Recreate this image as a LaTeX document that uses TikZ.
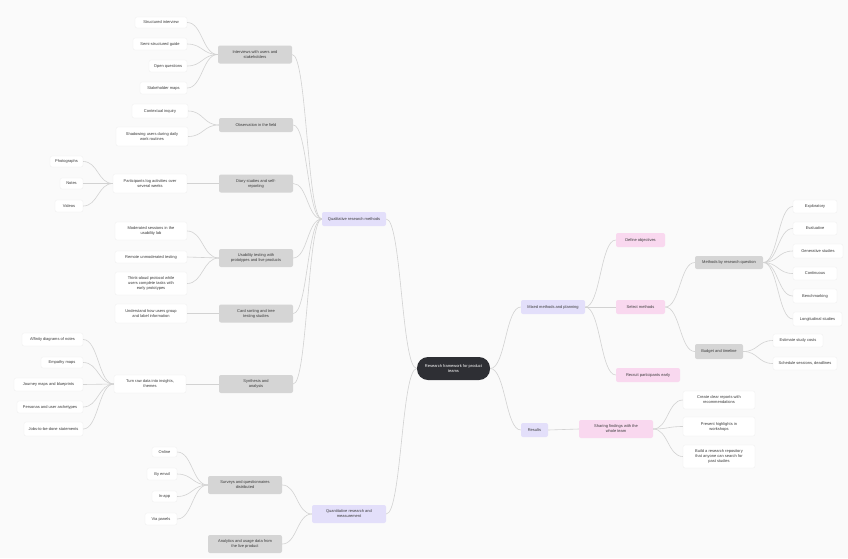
\documentclass[tikz,border=0pt]{standalone}
\usepackage{fontspec}
\setmainfont{Liberation Sans}
\usetikzlibrary{calc}
\definecolor{bg}{HTML}{FAFAFA}
\definecolor{lav}{HTML}{E3DFFA}
\definecolor{gry}{HTML}{D5D5D5}
\definecolor{pnk}{HTML}{F9D8EF}
\definecolor{dark}{HTML}{2E2F34}
\definecolor{cline}{HTML}{D2D2D2}
\definecolor{txt}{HTML}{3A3A3A}
\definecolor{leafline}{HTML}{EEEEEE}
\newcommand\fs{\fontsize{4}{5}\selectfont}
\newcommand\lnk[2]{\draw[conn] let \p1=(#1), \p2=(#2) in (\p1) .. controls ({(\x1+\x2)/2},\y1) and ({(\x1+\x2)/2},\y2) .. (\p2);}
\tikzset{
  conn/.style={draw=cline, line width=0.6},
  box/.style={rounded corners=2, inner sep=1, align=center, font=\fs, text=txt},
  lav/.style={box, fill=lav},
  gry/.style={box, fill=gry},
  pnk/.style={box, fill=pnk},
  leaf/.style={box, fill=white, draw=leafline, line width=0.3},
  root/.style={rounded corners=11, fill=dark, text=white, inner sep=1, align=center, font=\fs},
  wh/.style 2 args={minimum width=#1, minimum height=#2}
}
\begin{document}
\begin{tikzpicture}[x=1pt,y=-1pt]
\useasboundingbox (0,0) rectangle (848,558);
\fill[bg] (0,0) rectangle (848,558);

% root
\node[root, wh={73}{23}] (root) at (453.5,368.5) {Research framework for product\\teams};

% level 1
\node[lav, wh={64}{14}] (A) at (354,219) {Qualitative research methods};
\node[lav, wh={74}{18}] (B) at (349,514) {Quantitative research and\\measurement};
\node[lav, wh={64}{14}] (C) at (553,307) {Mixed methods and planning};
\node[lav, wh={27}{14}] (D) at (534.5,430) {Results};

% A children
\node[gry, wh={74}{18}] (A1) at (255,54.5) {Interviews with users and\\stakeholders};
\node[gry, wh={74}{14}] (A2) at (256,125) {Observation in the field};
\node[gry, wh={74}{18}] (A3) at (256,183.5) {Diary studies and self-\\reporting};
\node[gry, wh={74}{18}] (A4) at (256,258) {Usability testing with\\prototypes and live products};
\node[gry, wh={74}{18}] (A5) at (256,313.5) {Card sorting and tree\\testing studies};
\node[gry, wh={74}{18}] (A6) at (256,384) {Synthesis and\\analysis};

% A1 leaves
\node[leaf, wh={52}{11}] (a1a) at (161,22.5) {Structured interview};
\node[leaf, wh={54}{12}] (a1b) at (160,44) {Semi-structured guide};
\node[leaf, wh={38}{12}] (a1c) at (168,66) {Open questions};
\node[leaf, wh={47}{12}] (a1d) at (163.5,88) {Stakeholder maps};

% A2 leaves
\node[leaf, wh={56}{14}] (a2a) at (160,111) {Contextual inquiry};
\node[leaf, wh={72}{19}] (a2b) at (152,136.5) {Shadowing users during daily\\work routines};

% A3
\node[leaf, wh={74}{19}] (a3) at (150,183.5) {Participants log activities over\\several weeks};
\node[leaf, wh={33}{11}] (a3a) at (66.5,161.5) {Photographs};
\node[leaf, wh={23}{11}] (a3b) at (71.5,183.5) {Notes};
\node[leaf, wh={28}{12}] (a3c) at (69,206) {Videos};

% A4 leaves
\node[leaf, wh={72}{18}] (a4a) at (151,231) {Moderated sessions in the\\usability lab};
\node[leaf, wh={72}{12}] (a4b) at (151,257) {Remote unmoderated testing};
\node[leaf, wh={72}{23}] (a4c) at (151,283.5) {Think-aloud protocol while\\users complete tasks with\\early prototypes};

% A5 leaf
\node[leaf, wh={72}{19}] (a5a) at (151,313.5) {Understand how users group\\and label information};

% A6
\node[leaf, wh={72}{18}] (a6) at (150,384) {Turn raw data into insights,\\themes};
\node[leaf, wh={61}{13}] (a6a) at (52.5,339.5) {Affinity diagrams of notes};
\node[leaf, wh={42}{11}] (a6b) at (62,362.5) {Empathy maps};
\node[leaf, wh={69}{13}] (a6c) at (48.5,384.5) {Journey maps and blueprints};
\node[leaf, wh={66}{12}] (a6d) at (50,407) {Personas and user archetypes};
\node[leaf, wh={59}{14}] (a6e) at (53.5,429) {Jobs-to-be-done statements};

% B children
\node[gry, wh={74}{18}] (B1) at (245,485) {Surveys and questionnaires\\distributed};
\node[gry, wh={74}{18}] (B2) at (245,544) {Analytics and usage data from\\the live product};
\node[leaf, wh={25}{10}] (b1a) at (164.5,452) {Online};
\node[leaf, wh={30}{12}] (b1b) at (162,474) {By email};
\node[leaf, wh={25}{11}] (b1c) at (164.5,496.5) {In-app};
\node[leaf, wh={32}{12}] (b1d) at (161,519) {Via panels};

% C children
\node[pnk, wh={49}{14}] (C1) at (640.5,240) {Define objectives};
\node[pnk, wh={49}{14}] (C2) at (640.5,307) {Select methods};
\node[pnk, wh={64}{14}] (C3) at (648,375) {Recruit participants early};
\node[gry, wh={68}{13}] (C2a) at (729,262.5) {Methods by research question};
\node[gry, wh={48}{15}] (C2b) at (719,351.5) {Budget and timeline};
\node[leaf, wh={44}{13}] (c1) at (815,206.5) {Exploratory};
\node[leaf, wh={44}{13}] (c2) at (815,228.5) {Evaluative};
\node[leaf, wh={50}{14}] (c3) at (818,251) {Generative studies};
\node[leaf, wh={44}{13}] (c4) at (815,273.5) {Continuous};
\node[leaf, wh={44}{14}] (c5) at (815,296) {Benchmarking};
\node[leaf, wh={49}{14}] (c6) at (817.5,319) {Longitudinal studies};
\node[leaf, wh={50}{13}] (c7) at (798,340.5) {Estimate study costs};
\node[leaf, wh={64}{13}] (c8) at (805,363.5) {Schedule sessions, deadlines};

% D children
\node[pnk, wh={74}{18}] (D1) at (616,429) {Sharing findings with the\\whole team};
\node[leaf, wh={72}{18}] (d1) at (719,400) {Create clear reports with\\recommendations};
\node[leaf, wh={72}{19}] (d2) at (719,426.5) {Present highlights in\\workshops};
\node[leaf, wh={72}{23}] (d3) at (719,456.5) {Build a research repository\\that anyone can search for\\past studies};

% connectors
\lnk{root.west}{A.east}
\lnk{root.west}{B.east}
\lnk{root.east}{C.west}
\lnk{root.east}{D.west}
\foreach \k in {A1,A2,A3,A4,A5,A6} {\lnk{A.west}{\k.east}}
\foreach \k in {a1a,a1b,a1c,a1d} {\lnk{A1.west}{\k.east}}
\foreach \k in {a2a,a2b} {\lnk{A2.west}{\k.east}}
\lnk{A3.west}{a3.east}
\foreach \k in {a3a,a3b,a3c} {\lnk{a3.west}{\k.east}}
\foreach \k in {a4a,a4b,a4c} {\lnk{A4.west}{\k.east}}
\lnk{A5.west}{a5a.east}
\lnk{A6.west}{a6.east}
\foreach \k in {a6a,a6b,a6c,a6d,a6e} {\lnk{a6.west}{\k.east}}
\foreach \k in {B1,B2} {\lnk{B.west}{\k.east}}
\foreach \k in {b1a,b1b,b1c,b1d} {\lnk{B1.west}{\k.east}}
\foreach \k in {C1,C2,C3} {\lnk{C.east}{\k.west}}
\foreach \k in {C2a,C2b} {\lnk{C2.east}{\k.west}}
\foreach \k in {c1,c2,c3,c4,c5,c6} {\lnk{C2a.east}{\k.west}}
\foreach \k in {c7,c8} {\lnk{C2b.east}{\k.west}}
\lnk{D.east}{D1.west}
\foreach \k in {d1,d2,d3} {\lnk{D1.east}{\k.west}}
\end{tikzpicture}
\end{document}
